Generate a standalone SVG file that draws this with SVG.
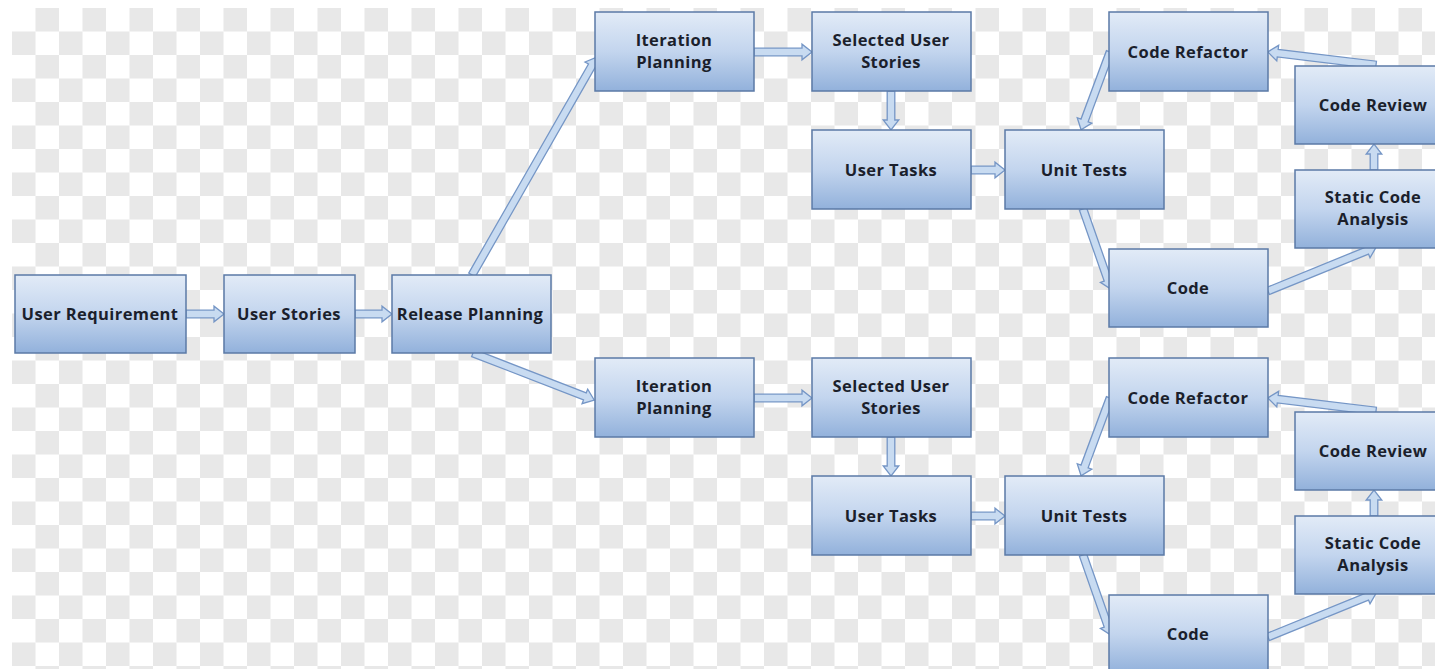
<svg xmlns="http://www.w3.org/2000/svg" xmlns:xlink="http://www.w3.org/1999/xlink" width="1435" height="669" viewBox="0 0 1435 669">
<style>
.box{fill:url(#boxg);stroke:#5b7aa6;stroke-width:1.5}
.lbl{font-family:"Open Sans","Liberation Sans",sans-serif;font-weight:700;font-size:16.5px;letter-spacing:0.4px;fill:#1b1f2c;text-anchor:middle}
.arr{fill:#c8dbf1;stroke:#7596c6;stroke-width:1.3;stroke-linejoin:miter}
</style>
<defs>
<linearGradient id="boxg" x1="0" y1="0" x2="0" y2="1">
<stop offset="0" stop-color="#e2ebf7"/>
<stop offset="0.5" stop-color="#c3d5ee"/>
<stop offset="1" stop-color="#92b1db"/>
</linearGradient>
<pattern id="chk" x="12" y="8" width="47" height="47" patternUnits="userSpaceOnUse">
<rect width="47" height="47" fill="#ffffff"/>
<rect x="23.5" y="0" width="23.5" height="23.5" fill="#e8e8e8"/>
<rect x="0" y="23.5" width="23.5" height="23.5" fill="#e8e8e8"/>
</pattern>
<path id="a8" d="M0,-3.8 H73 V-7.8 L83,0 L73,7.8 V3.8 H0 Z"/>
<path id="a9" d="M0,-3.8 H75 V-7.8 L85,0 L75,7.8 V3.8 H0 Z"/>
<path id="a10" d="M0,-3.8 H107 V-7.8 L117,0 L107,7.8 V3.8 H0 Z"/>
<path id="a11" d="M0,-3.8 H16 V-7.8 L26,0 L16,7.8 V3.8 H0 Z"/>
<path id="a12" d="M0,-3.8 H99 V-7.8 L109,0 L99,7.8 V3.8 H0 Z"/>
</defs>
<rect width="1435" height="669" fill="#ffffff"/>
<rect x="12" y="8" width="1423" height="661" fill="url(#chk)"/>

<g id="connectors">
<path class="arr" transform="translate(186,314)" d="M0,-3.8 H28 V-7.8 L38,0 L28,7.8 V3.8 H0 Z"/>
<path class="arr" transform="translate(355,314)" d="M0,-3.8 H27 V-7.8 L37,0 L27,7.8 V3.8 H0 Z"/>
<path class="arr" transform="translate(472,275) rotate(-60.2)" d="M0,-3.8 H241 V-7.8 L251,0 L241,7.8 V3.8 H0 Z"/>
<path class="arr" transform="translate(473,353) rotate(21.2)" d="M0,-3.8 H120 V-7.8 L130,0 L120,7.8 V3.8 H0 Z"/>
<g id="conn-top">
<path class="arr" transform="translate(754,52)" d="M0,-3.8 H48 V-7.8 L58,0 L48,7.8 V3.8 H0 Z"/>
<path class="arr" transform="translate(891,91) rotate(90)" d="M0,-3.8 H29 V-7.8 L39,0 L29,7.8 V3.8 H0 Z"/>
<path class="arr" transform="translate(971,170)" d="M0,-3.8 H24 V-7.8 L34,0 L24,7.8 V3.8 H0 Z"/>
<use class="arr" xlink:href="#a8" href="#a8" transform="translate(1110,52) rotate(110.4)"/>
<use class="arr" xlink:href="#a9" href="#a9" transform="translate(1083,209) rotate(70.7)"/>
<use class="arr" xlink:href="#a10" href="#a10" transform="translate(1268,291) rotate(-22.2)"/>
<use class="arr" xlink:href="#a11" href="#a11" transform="translate(1374,170) rotate(-90)"/>
<use class="arr" xlink:href="#a12" href="#a12" transform="translate(1376,65) rotate(186.9)"/>
</g>
<g id="conn-bottom" transform="translate(0,346)">
<path class="arr" transform="translate(754,52)" d="M0,-3.8 H48 V-7.8 L58,0 L48,7.8 V3.8 H0 Z"/>
<path class="arr" transform="translate(891,91) rotate(90)" d="M0,-3.8 H29 V-7.8 L39,0 L29,7.8 V3.8 H0 Z"/>
<path class="arr" transform="translate(971,170)" d="M0,-3.8 H24 V-7.8 L34,0 L24,7.8 V3.8 H0 Z"/>
<use class="arr" xlink:href="#a8" href="#a8" transform="translate(1110,52) rotate(110.4)"/>
<use class="arr" xlink:href="#a9" href="#a9" transform="translate(1083,209) rotate(70.7)"/>
<use class="arr" xlink:href="#a10" href="#a10" transform="translate(1268,291) rotate(-22.2)"/>
<use class="arr" xlink:href="#a11" href="#a11" transform="translate(1374,170) rotate(-90)"/>
<use class="arr" xlink:href="#a12" href="#a12" transform="translate(1376,65) rotate(186.9)"/>
</g>
</g>

<g id="user-requirement"><rect class="box" x="15" y="275" width="171" height="78"/><text class="lbl" x="100" y="320">User Requirement</text></g>
<g id="user-stories"><rect class="box" x="224" y="275" width="131" height="78"/><text class="lbl" x="289" y="320">User Stories</text></g>
<g id="release-planning"><rect class="box" x="392" y="275" width="159" height="78"/><text class="lbl" x="470" y="320">Release Planning</text></g>

<g id="iteration-planning-1"><rect class="box" x="595" y="12" width="159" height="79"/><text class="lbl" x="674" y="46">Iteration</text><text class="lbl" x="674" y="68">Planning</text></g>
<g id="selected-user-stories-1"><rect class="box" x="812" y="12" width="159" height="79"/><text class="lbl" x="891" y="46">Selected User</text><text class="lbl" x="891" y="68">Stories</text></g>
<g id="user-tasks-1"><rect class="box" x="812" y="130" width="159" height="79"/><text class="lbl" x="891" y="176">User Tasks</text></g>
<g id="unit-tests-1"><rect class="box" x="1005" y="130" width="159" height="79"/><text class="lbl" x="1084" y="176">Unit Tests</text></g>
<g id="code-refactor-1"><rect class="box" x="1109" y="12" width="159" height="79"/><text class="lbl" x="1188" y="58">Code Refactor</text></g>
<g id="code-review-1"><rect class="box" x="1295" y="66" width="150" height="78"/><text class="lbl" x="1373" y="111">Code Review</text></g>
<g id="static-code-analysis-1"><rect class="box" x="1295" y="170" width="150" height="78"/><text class="lbl" x="1373" y="203">Static Code</text><text class="lbl" x="1373" y="225">Analysis</text></g>
<g id="code-1"><rect class="box" x="1109" y="249" width="159" height="78"/><text class="lbl" x="1188" y="294">Code</text></g>

<g id="iteration-planning-2"><rect class="box" x="595" y="358" width="159" height="79"/><text class="lbl" x="674" y="392">Iteration</text><text class="lbl" x="674" y="414">Planning</text></g>
<g id="selected-user-stories-2"><rect class="box" x="812" y="358" width="159" height="79"/><text class="lbl" x="891" y="392">Selected User</text><text class="lbl" x="891" y="414">Stories</text></g>
<g id="user-tasks-2"><rect class="box" x="812" y="476" width="159" height="79"/><text class="lbl" x="891" y="522">User Tasks</text></g>
<g id="unit-tests-2"><rect class="box" x="1005" y="476" width="159" height="79"/><text class="lbl" x="1084" y="522">Unit Tests</text></g>
<g id="code-refactor-2"><rect class="box" x="1109" y="358" width="159" height="79"/><text class="lbl" x="1188" y="404">Code Refactor</text></g>
<g id="code-review-2"><rect class="box" x="1295" y="412" width="150" height="78"/><text class="lbl" x="1373" y="457">Code Review</text></g>
<g id="static-code-analysis-2"><rect class="box" x="1295" y="516" width="150" height="78"/><text class="lbl" x="1373" y="549">Static Code</text><text class="lbl" x="1373" y="571">Analysis</text></g>
<g id="code-2"><rect class="box" x="1109" y="595" width="159" height="78"/><text class="lbl" x="1188" y="640">Code</text></g>
</svg>
